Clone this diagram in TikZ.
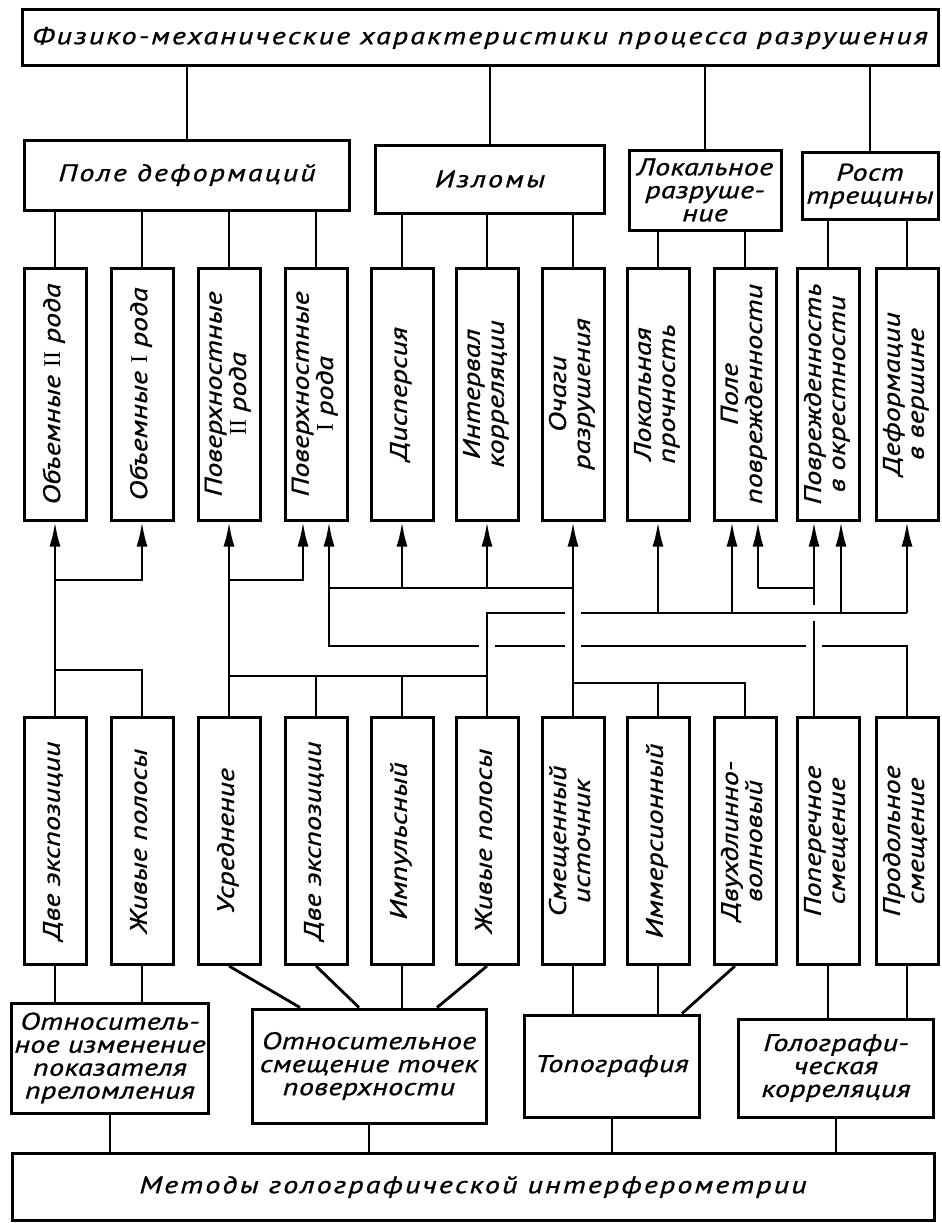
\documentclass[tikz,border=0pt]{standalone}
\usepackage{fontspec}
\usepackage{graphicx}
\setmainfont{PT Sans}[FakeStretch=1.25,FakeBold=1]
\newfontfamily\romfont{Liberation Serif}
\usetikzlibrary{positioning}
\usetikzlibrary{calc}
\usetikzlibrary{arrows.meta}
\tikzset{
	every path/.style={line width=2.8pt},
	every node/.style={align=center,inner sep=0pt,font=\fontsize{24}{24}\selectfont\itshape},
	block/.style={rectangle, draw, line width=3pt},
	upbox/.style={block, minimum width=62pt, minimum height=252pt},
	lowbox/.style={block, minimum width=62pt, minimum height=247pt},
	arr/.style={-{Latex[length=25pt,width=11pt]}},
	wide/.style={font=\fontsize{24}{23}\selectfont\itshape\addfontfeature{LetterSpace=9}},
	mid/.style={font=\fontsize{24}{23}\selectfont\itshape\addfontfeature{LetterSpace=1.5}}
}
\newcommand{\vlab}[1]{\rotatebox{90}{\begin{tabular}{@{}c@{}}#1\end{tabular}}}
\newcommand{\rn}[1]{{\romfont\upshape #1}}

\begin{document}
\begin{tikzpicture}[x=1pt,y=-1pt]
	\useasboundingbox (0,0) rectangle (942,1223);
	% Title
	\node[block, wide, minimum width=916pt, minimum height=56pt] (top) at (480,38) {Физико-механические характеристики процесса разрушения};
	
	% second row
	\node[block, wide, minimum width=325pt, minimum height=70pt] (defo) at (187,175) {Поле деформаций};
	\node[block, wide, minimum width=229pt, minimum height=68pt] (izl) at (490,179) {Изломы};
	\node[block, mid, minimum width=152pt, minimum height=80pt] (lok) at (705,190) {Локальное\\разруше-\\ние};
	\node[block, mid, minimum width=136pt, minimum height=67pt] (rost) at (870,186) {Рост\\трещины};
	
	\draw (defo.north) -- (defo.north |- top.south);
	\draw (izl.north) -- (izl.north |- top.south);
	\draw (lok.north) -- (lok.north |- top.south);
	\draw (rost.north) -- (rost.north |- top.south);
	
	% characteristics
	\node[upbox] (v1) at (55,394) {\vlab{Объемные \rn{II} рода}};
	\node[upbox] (v2) at (142,394) {\vlab{Объемные \rn{I} рода}};
	\node[upbox] (v3) at (229,394) {\vlab{Поверхностные\\\rn{II} рода}};
	\node[upbox] (v4) at (316,394) {\vlab{Поверхностные\\\rn{I} рода}};
	\node[upbox] (v5) at (402,394) {\vlab{Дисперсия}};
	\node[upbox] (v6) at (487,394) {\vlab{Интервал\\корреляции}};
	\node[upbox] (v7) at (573,394) {\vlab{Очаги\\разрушения}};
	\node[upbox] (v8) at (658,394) {\vlab{Локальная\\прочность}};
	\node[upbox] (v9) at (745,394) {\vlab{Поле\\поврежденности}};
	\node[upbox] (v10) at (828,394) {\vlab{Поврежденность\\в окрестности}};
	\node[upbox] (v11) at (907,394) {\vlab{Деформации\\в вершине}};
	
	\draw (v1.north) -- (v1.north |- defo.south);
	\draw (v2.north) -- (v2.north |- defo.south);
	\draw (v3.north) -- (v3.north |- defo.south);
	\draw (v4.north) -- (v4.north |- defo.south);
	\draw (v5.north) -- (v5.north |- izl.south);
	\draw (v6.north) -- (v6.north |- izl.south);
	\draw (v7.north) -- (v7.north |- izl.south);
	\draw (v8.north) -- (v8.north |- lok.south);
	\draw (v9.north) -- (v9.north |- lok.south);
	\draw (v10.north) -- (v10.north |- rost.south);
	\draw (v11.north) -- (v11.north |- rost.south);
	
	% methods
	\node[lowbox] (m1) at (55,841) {\vlab{Две экспозиции}};
	\node[lowbox] (m2) at (142,841) {\vlab{Живые полосы}};
	\node[lowbox] (m3) at (229,841) {\vlab{Усреднение}};
	\node[lowbox] (m4) at (316,841) {\vlab{Две экспозиции}};
	\node[lowbox] (m5) at (402,841) {\vlab{Импульсный}};
	\node[lowbox] (m6) at (487,841) {\vlab{Живые полосы}};
	\node[lowbox] (m7) at (573,841) {\vlab{Смещенный\\источник}};
	\node[lowbox] (m8) at (658,841) {\vlab{Иммерсионный}};
	\node[lowbox] (m9) at (745,841) {\vlab{Двухдлинно-\\волновый}};
	\node[lowbox] (m10) at (828,841) {\vlab{Поперечное\\смещение}};
	\node[lowbox] (m11) at (907,841) {\vlab{Продольное\\смещение}};
	
	% buses
	\coordinate (busA) at (0,580);
	\coordinate (busC) at (0,588);
	\coordinate (busF) at (0,613);
	\coordinate (busH) at (0,646);
	\coordinate (busD) at (0,670);
	\coordinate (busE) at (0,676);
	\coordinate (busG) at (0,683);
	\coordinate (a4) at ($(v4.south)+(-13,0)$);
	\coordinate (b4) at ($(v4.south)+(13,0)$);
	\coordinate (a9) at ($(v9.south)+(-13,0)$);
	\coordinate (b9) at ($(v9.south)+(13,0)$);
	\coordinate (a10) at ($(v10.south)+(-14,0)$);
	\coordinate (b10) at ($(v10.south)+(13,0)$);
	
	\draw[arr] (m1.north) -- (v1.south);
	\draw[arr] (m1.north |- busA) -| (v2.south);
	\draw (m2.north) |- (m1.north |- busD);
	
	\draw[arr] (m3.north) -- (v3.south);
	\draw[arr] (m3.north |- busA) -| (a4);
	\draw (m3.north |- busE) -- (m6.north |- busE);
	\draw (m4.north) -- (m4.north |- busE);
	\draw (m5.north) -- (m5.north |- busE);
	
	\draw (m6.north) -- (m6.north |- busF) -- ($(m7.north |- busF)+(-8,0)$);
	\draw ($(m7.north |- busF)+(8,0)$) -- (m11.north |- busF);
	\draw[arr] (v8.south |- busF) -- (v8.south);
	\draw[arr] (a9 |- busF) -- (a9);
	\draw[arr] (b10 |- busF) -- (b10);
	\draw[arr] (v11.south |- busF) -- (v11.south);
	
	\draw[arr] (b4 |- busC) -- (b4);
	\draw (b4 |- busC) -- (v7.south |- busC);
	\draw[arr] (v5.south |- busC) -- (v5.south);
	\draw[arr] (v6.south |- busC) -- (v6.south);
	\draw[arr] (m7.north) -- (v7.south);
	\draw (m7.north |- busG) -| (m9.north);
	\draw (m8.north) -- (m8.north |- busG);
	
	\draw[arr] (b9 |- busC) -- (b9);
	\draw (b9 |- busC) -- (a10 |- busC);
	\draw[arr] (a10 |- busC) -- (a10);
	\draw (a10 |- busC) -- ($(a10 |- busF)+(0,-8)$);
	\draw ($(a10 |- busF)+(0,8)$) -- (a10 |- m10.north);
	
	\draw (b4 |- busC) |- ($(m6.north |- busH)+(-8,0)$);
	\draw ($(m6.north |- busH)+(8,0)$) -- ($(m7.north |- busH)+(-8,0)$);
	\draw ($(m7.north |- busH)+(8,0)$) -- ($(a10 |- busH)+(-8,0)$);
	\draw ($(a10 |- busH)+(8,0)$) -| (m11.north);
	
	% techniques
	\node[block, mid, minimum width=197pt, minimum height=110pt] (rel) at (110,1058) {Относитель-\\ное изменение\\показателя\\преломления};
	\node[block, mid, minimum width=234pt, minimum height=114pt] (sme) at (369,1066) {Относительное\\смещение точек\\поверхности};
	\node[block, mid, minimum width=175pt, minimum height=102pt] (topo) at (612,1066) {Топография};
	\node[block, mid, minimum width=195pt, minimum height=98pt] (kor) at (836,1068) {Голографи-\\ческая\\корреляция};
	\node[block, wide, minimum width=922pt, minimum height=67pt] (meth) at (473,1187) {Методы голографической интерферометрии};
	
	\draw (m1.south) -- (m1.south |- rel.north);
	\draw (m2.south) -- (m2.south |- rel.north);
	\draw (m3.south) -- ($(sme.north)+(-69,0)$);
	\draw (m4.south) -- ($(sme.north)+(-10,0)$);
	\draw (m5.south) -- (m5.south |- sme.north);
	\draw (m6.south) -- ($(sme.north)+(68,0)$);
	\draw (m7.south) -- (m7.south |- topo.north);
	\draw (m8.south) -- (m8.south |- topo.north);
	\draw ($(m9.south)+(-10,0)$) -- ($(topo.north)+(70,0)$);
	\draw (m10.south) -- (m10.south |- kor.north);
	\draw (m11.south) -- (m11.south |- kor.north);
	
	\draw (rel.south) -- (rel.south |- meth.north);
	\draw (sme.south) -- (sme.south |- meth.north);
	\draw (topo.south) -- (topo.south |- meth.north);
	\draw (kor.south) -- (kor.south |- meth.north);
\end{tikzpicture}
\end{document}
